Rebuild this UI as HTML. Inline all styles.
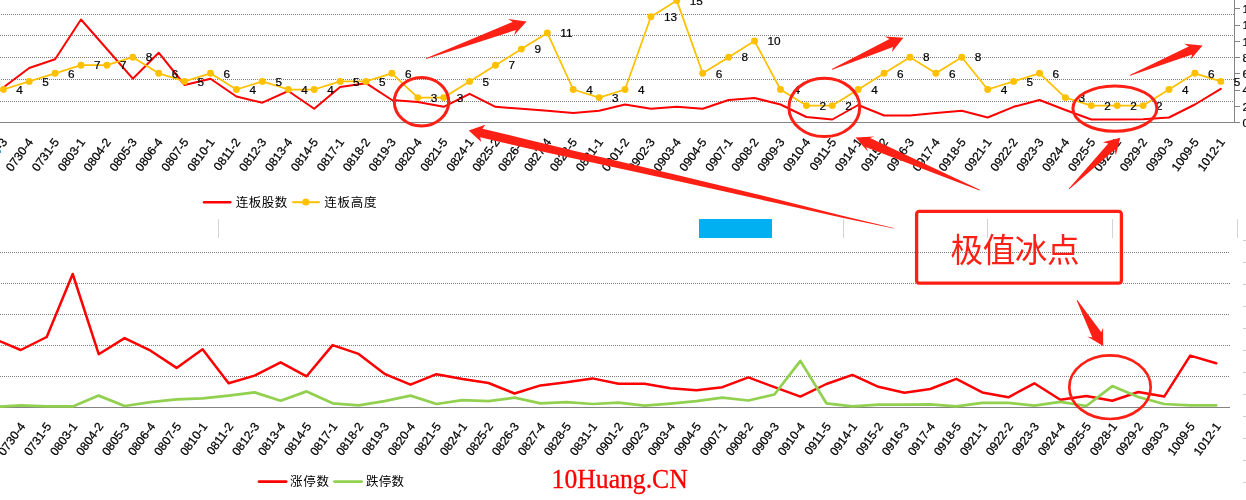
<!DOCTYPE html>
<html lang="zh-CN"><head><meta charset="utf-8"><title>极值冰点</title>
<style>
html,body{margin:0;padding:0;background:#fff;}
body{width:1246px;height:500px;overflow:hidden;}
svg{display:block;}
.ax{font-family:"Liberation Sans","Noto Sans CJK SC",sans-serif;font-size:12px;fill:#000000;stroke:#000;stroke-width:0.25px;}
.dl{font-family:"Liberation Sans","Noto Sans CJK SC",sans-serif;font-size:11.8px;fill:#000000;stroke:#000;stroke-width:0.2px;}
.lg{font-family:"Liberation Sans","Noto Sans CJK SC",sans-serif;font-size:12.5px;fill:#000000;}
.big{font-family:"Liberation Sans","Noto Sans CJK SC",sans-serif;font-size:32.6px;fill:#ff2015;}
.wm{font-family:"Liberation Serif","Noto Serif CJK SC",serif;font-size:27px;fill:#ff0000;stroke:#ff0000;stroke-width:0.3px;}
</style></head><body>
<svg width="1246" height="500" viewBox="0 0 1246 500">
<rect x="0" y="0" width="1246" height="500" fill="#ffffff"/>
<g stroke="#d4d4d4" stroke-width="1" shape-rendering="crispEdges">
<line x1="218.5" y1="219" x2="218.5" y2="237.5"/>
<line x1="843.5" y1="219" x2="843.5" y2="237.5"/>
<line x1="987.5" y1="219" x2="987.5" y2="237.5"/>
<line x1="1112.5" y1="219" x2="1112.5" y2="237.5"/>
<line x1="1237.5" y1="219" x2="1237.5" y2="237.5"/>
</g>
<g stroke="#cfcfcf" stroke-width="1" shape-rendering="crispEdges">
<line x1="1243" y1="240.5" x2="1246" y2="240.5"/>
<line x1="1243" y1="262.5" x2="1246" y2="262.5"/>
<line x1="1243" y1="284.5" x2="1246" y2="284.5"/>
<line x1="1243" y1="306.5" x2="1246" y2="306.5"/>
<line x1="1243" y1="328.5" x2="1246" y2="328.5"/>
<line x1="1243" y1="350.5" x2="1246" y2="350.5"/>
<line x1="1243" y1="372.5" x2="1246" y2="372.5"/>
<line x1="1243" y1="394.5" x2="1246" y2="394.5"/>
<line x1="1243" y1="416.5" x2="1246" y2="416.5"/>
<line x1="1243" y1="438.5" x2="1246" y2="438.5"/>
<line x1="1243" y1="460.5" x2="1246" y2="460.5"/>
<line x1="1243" y1="482.5" x2="1246" y2="482.5"/>
</g>
<rect x="0" y="150" width="1" height="3" fill="#5ccbf7"/>
<rect x="699" y="219" width="73" height="19" fill="#00b0f0"/>
<g stroke="#7d7d7d" stroke-width="1" stroke-dasharray="1 1" fill="none" shape-rendering="crispEdges">
<line x1="1" y1="14.5" x2="1234" y2="14.5"/>
<line x1="0" y1="35.5" x2="1234" y2="35.5"/>
<line x1="0" y1="57.5" x2="1234" y2="57.5"/>
<line x1="1" y1="79.5" x2="1234" y2="79.5"/>
<line x1="0" y1="101.5" x2="1234" y2="101.5"/>
</g>
<line x1="0" y1="122.5" x2="1240" y2="122.5" stroke="#838383" stroke-width="1" shape-rendering="crispEdges"/>
<g stroke="#838383" stroke-width="1" shape-rendering="crispEdges">
<line x1="1234.5" y1="0" x2="1234.5" y2="123"/>
<line x1="1235" y1="106.5" x2="1240" y2="106.5"/>
<line x1="1235" y1="90.5" x2="1240" y2="90.5"/>
<line x1="1235" y1="73.5" x2="1240" y2="73.5"/>
<line x1="1235" y1="57.5" x2="1240" y2="57.5"/>
<line x1="1235" y1="41.5" x2="1240" y2="41.5"/>
<line x1="1235" y1="25.5" x2="1240" y2="25.5"/>
<line x1="1235" y1="8.5" x2="1240" y2="8.5"/>
</g>
<g class="dl">
<text x="1242.5" y="126.8">0</text>
<text x="1242.5" y="110.5">2</text>
<text x="1242.5" y="94.3">4</text>
<text x="1242.5" y="78.0">6</text>
<text x="1242.5" y="61.8">8</text>
<text x="1242.5" y="45.5">10</text>
<text x="1242.5" y="29.3">12</text>
<text x="1242.5" y="13.1">14</text>
</g>
<g stroke="#7d7d7d" stroke-width="1" stroke-dasharray="1 1" fill="none" shape-rendering="crispEdges">
<line x1="0" y1="252.5" x2="1230" y2="252.5"/>
<line x1="1" y1="283.5" x2="1230" y2="283.5"/>
<line x1="0" y1="314.5" x2="1230" y2="314.5"/>
<line x1="1" y1="345.5" x2="1230" y2="345.5"/>
<line x1="0" y1="376.5" x2="1230" y2="376.5"/>
</g>
<line x1="0" y1="407.5" x2="1230" y2="407.5" stroke="#838383" stroke-width="1" shape-rendering="crispEdges"/>
<g class="ax" text-anchor="end">
<text transform="translate(7.9,142.0) rotate(-54)">0729-3</text>
<text transform="translate(33.8,142.0) rotate(-54)">0730-4</text>
<text transform="translate(59.7,142.0) rotate(-54)">0731-5</text>
<text transform="translate(85.6,142.0) rotate(-54)">0803-1</text>
<text transform="translate(111.5,142.0) rotate(-54)">0804-2</text>
<text transform="translate(137.4,142.0) rotate(-54)">0805-3</text>
<text transform="translate(163.3,142.0) rotate(-54)">0806-4</text>
<text transform="translate(189.2,142.0) rotate(-54)">0807-5</text>
<text transform="translate(215.1,142.0) rotate(-54)">0810-1</text>
<text transform="translate(241.0,142.0) rotate(-54)">0811-2</text>
<text transform="translate(267.0,142.0) rotate(-54)">0812-3</text>
<text transform="translate(292.9,142.0) rotate(-54)">0813-4</text>
<text transform="translate(318.8,142.0) rotate(-54)">0814-5</text>
<text transform="translate(344.7,142.0) rotate(-54)">0817-1</text>
<text transform="translate(370.6,142.0) rotate(-54)">0818-2</text>
<text transform="translate(396.5,142.0) rotate(-54)">0819-3</text>
<text transform="translate(422.4,142.0) rotate(-54)">0820-4</text>
<text transform="translate(448.3,142.0) rotate(-54)">0821-5</text>
<text transform="translate(474.2,142.0) rotate(-54)">0824-1</text>
<text transform="translate(500.1,142.0) rotate(-54)">0825-2</text>
<text transform="translate(526.0,142.0) rotate(-54)">0826-3</text>
<text transform="translate(551.9,142.0) rotate(-54)">0827-4</text>
<text transform="translate(577.8,142.0) rotate(-54)">0828-5</text>
<text transform="translate(603.7,142.0) rotate(-54)">0831-1</text>
<text transform="translate(629.6,142.0) rotate(-54)">0901-2</text>
<text transform="translate(655.5,142.0) rotate(-54)">0902-3</text>
<text transform="translate(681.4,142.0) rotate(-54)">0903-4</text>
<text transform="translate(707.3,142.0) rotate(-54)">0904-5</text>
<text transform="translate(733.2,142.0) rotate(-54)">0907-1</text>
<text transform="translate(759.1,142.0) rotate(-54)">0908-2</text>
<text transform="translate(785.1,142.0) rotate(-54)">0909-3</text>
<text transform="translate(811.0,142.0) rotate(-54)">0910-4</text>
<text transform="translate(836.9,142.0) rotate(-54)">0911-5</text>
<text transform="translate(862.8,142.0) rotate(-54)">0914-1</text>
<text transform="translate(888.7,142.0) rotate(-54)">0915-2</text>
<text transform="translate(914.6,142.0) rotate(-54)">0916-3</text>
<text transform="translate(940.5,142.0) rotate(-54)">0917-4</text>
<text transform="translate(966.4,142.0) rotate(-54)">0918-5</text>
<text transform="translate(992.3,142.0) rotate(-54)">0921-1</text>
<text transform="translate(1018.2,142.0) rotate(-54)">0922-2</text>
<text transform="translate(1044.1,142.0) rotate(-54)">0923-3</text>
<text transform="translate(1070.0,142.0) rotate(-54)">0924-4</text>
<text transform="translate(1095.9,142.0) rotate(-54)">0925-5</text>
<text transform="translate(1121.8,142.0) rotate(-54)">0928-1</text>
<text transform="translate(1147.7,142.0) rotate(-54)">0929-2</text>
<text transform="translate(1173.6,142.0) rotate(-54)">0930-3</text>
<text transform="translate(1199.5,142.0) rotate(-54)">1009-5</text>
<text transform="translate(1225.4,142.0) rotate(-54)">1012-1</text>
</g>
<g class="ax" text-anchor="end">
<text transform="translate(0.0,426.3) rotate(-54)">0729-3</text>
<text transform="translate(26.0,426.3) rotate(-54)">0730-4</text>
<text transform="translate(52.0,426.3) rotate(-54)">0731-5</text>
<text transform="translate(78.0,426.3) rotate(-54)">0803-1</text>
<text transform="translate(104.0,426.3) rotate(-54)">0804-2</text>
<text transform="translate(129.9,426.3) rotate(-54)">0805-3</text>
<text transform="translate(155.9,426.3) rotate(-54)">0806-4</text>
<text transform="translate(181.9,426.3) rotate(-54)">0807-5</text>
<text transform="translate(207.9,426.3) rotate(-54)">0810-1</text>
<text transform="translate(233.9,426.3) rotate(-54)">0811-2</text>
<text transform="translate(259.9,426.3) rotate(-54)">0812-3</text>
<text transform="translate(285.9,426.3) rotate(-54)">0813-4</text>
<text transform="translate(311.9,426.3) rotate(-54)">0814-5</text>
<text transform="translate(337.9,426.3) rotate(-54)">0817-1</text>
<text transform="translate(363.9,426.3) rotate(-54)">0818-2</text>
<text transform="translate(389.8,426.3) rotate(-54)">0819-3</text>
<text transform="translate(415.8,426.3) rotate(-54)">0820-4</text>
<text transform="translate(441.8,426.3) rotate(-54)">0821-5</text>
<text transform="translate(467.8,426.3) rotate(-54)">0824-1</text>
<text transform="translate(493.8,426.3) rotate(-54)">0825-2</text>
<text transform="translate(519.8,426.3) rotate(-54)">0826-3</text>
<text transform="translate(545.8,426.3) rotate(-54)">0827-4</text>
<text transform="translate(571.8,426.3) rotate(-54)">0828-5</text>
<text transform="translate(597.8,426.3) rotate(-54)">0831-1</text>
<text transform="translate(623.8,426.3) rotate(-54)">0901-2</text>
<text transform="translate(649.8,426.3) rotate(-54)">0902-3</text>
<text transform="translate(675.7,426.3) rotate(-54)">0903-4</text>
<text transform="translate(701.7,426.3) rotate(-54)">0904-5</text>
<text transform="translate(727.7,426.3) rotate(-54)">0907-1</text>
<text transform="translate(753.7,426.3) rotate(-54)">0908-2</text>
<text transform="translate(779.7,426.3) rotate(-54)">0909-3</text>
<text transform="translate(805.7,426.3) rotate(-54)">0910-4</text>
<text transform="translate(831.7,426.3) rotate(-54)">0911-5</text>
<text transform="translate(857.7,426.3) rotate(-54)">0914-1</text>
<text transform="translate(883.7,426.3) rotate(-54)">0915-2</text>
<text transform="translate(909.6,426.3) rotate(-54)">0916-3</text>
<text transform="translate(935.6,426.3) rotate(-54)">0917-4</text>
<text transform="translate(961.6,426.3) rotate(-54)">0918-5</text>
<text transform="translate(987.6,426.3) rotate(-54)">0921-1</text>
<text transform="translate(1013.6,426.3) rotate(-54)">0922-2</text>
<text transform="translate(1039.6,426.3) rotate(-54)">0923-3</text>
<text transform="translate(1065.6,426.3) rotate(-54)">0924-4</text>
<text transform="translate(1091.6,426.3) rotate(-54)">0925-5</text>
<text transform="translate(1117.6,426.3) rotate(-54)">0928-1</text>
<text transform="translate(1143.6,426.3) rotate(-54)">0929-2</text>
<text transform="translate(1169.5,426.3) rotate(-54)">0930-3</text>
<text transform="translate(1195.5,426.3) rotate(-54)">1009-5</text>
<text transform="translate(1221.5,426.3) rotate(-54)">1012-1</text>
</g>
<polyline points="3.3,87.5 29.2,68.0 55.1,59.3 81.0,19.5 106.9,49.0 132.8,78.7 158.7,52.7 184.6,85.0 210.5,78.7 236.4,96.5 262.4,102.7 288.3,91.0 314.2,108.8 340.1,87.0 366.0,83.2 391.9,100.0 417.8,102.0 443.7,106.8 469.6,93.8 495.5,106.8 521.4,108.8 547.3,110.8 573.2,113.0 599.1,110.8 625.0,104.5 650.9,108.8 676.8,106.8 702.7,108.8 728.6,100.0 754.5,98.0 780.5,104.5 806.4,117.0 832.3,119.5 858.2,105.0 884.1,115.5 910.0,115.5 935.9,113.0 961.8,110.8 987.7,117.5 1013.6,106.8 1039.5,100.0 1065.4,110.0 1091.3,119.5 1117.2,119.5 1143.1,119.2 1169.0,117.5 1194.9,104.5 1220.8,88.8" fill="none" stroke="#ff0000" stroke-width="2.0" stroke-linejoin="round" stroke-linecap="round"/>
<polyline points="3.3,89.5 29.2,81.4 55.1,73.3 81.0,65.2 106.9,65.2 132.8,57.2 158.7,73.3 184.6,81.4 210.5,73.3 236.4,89.5 262.4,81.4 288.3,89.5 314.2,89.5 340.1,81.4 366.0,81.4 391.9,73.3 417.8,97.6 443.7,97.6 469.6,81.4 495.5,65.2 521.4,49.1 547.3,32.9 573.2,89.5 599.1,97.6 625.0,89.5 650.9,16.8 676.8,0.6 702.7,73.3 728.6,57.2 754.5,41.0 780.5,89.5 806.4,105.6 832.3,105.6 858.2,89.5 884.1,73.3 910.0,57.2 935.9,73.3 961.8,57.2 987.7,89.5 1013.6,81.4 1039.5,73.3 1065.4,97.6 1091.3,105.6 1117.2,105.6 1143.1,105.6 1169.0,89.5 1194.9,73.3 1220.8,81.4" fill="none" stroke="#ffc000" stroke-width="1.75" stroke-linejoin="round"/>
<g fill="#ffc000">
<circle cx="3.3" cy="89.5" r="3.45"/>
<circle cx="29.2" cy="81.4" r="3.45"/>
<circle cx="55.1" cy="73.3" r="3.45"/>
<circle cx="81.0" cy="65.2" r="3.45"/>
<circle cx="106.9" cy="65.2" r="3.45"/>
<circle cx="132.8" cy="57.2" r="3.45"/>
<circle cx="158.7" cy="73.3" r="3.45"/>
<circle cx="184.6" cy="81.4" r="3.45"/>
<circle cx="210.5" cy="73.3" r="3.45"/>
<circle cx="236.4" cy="89.5" r="3.45"/>
<circle cx="262.4" cy="81.4" r="3.45"/>
<circle cx="288.3" cy="89.5" r="3.45"/>
<circle cx="314.2" cy="89.5" r="3.45"/>
<circle cx="340.1" cy="81.4" r="3.45"/>
<circle cx="366.0" cy="81.4" r="3.45"/>
<circle cx="391.9" cy="73.3" r="3.45"/>
<circle cx="417.8" cy="97.6" r="3.45"/>
<circle cx="443.7" cy="97.6" r="3.45"/>
<circle cx="469.6" cy="81.4" r="3.45"/>
<circle cx="495.5" cy="65.2" r="3.45"/>
<circle cx="521.4" cy="49.1" r="3.45"/>
<circle cx="547.3" cy="32.9" r="3.45"/>
<circle cx="573.2" cy="89.5" r="3.45"/>
<circle cx="599.1" cy="97.6" r="3.45"/>
<circle cx="625.0" cy="89.5" r="3.45"/>
<circle cx="650.9" cy="16.8" r="3.45"/>
<circle cx="676.8" cy="0.6" r="3.45"/>
<circle cx="702.7" cy="73.3" r="3.45"/>
<circle cx="728.6" cy="57.2" r="3.45"/>
<circle cx="754.5" cy="41.0" r="3.45"/>
<circle cx="780.5" cy="89.5" r="3.45"/>
<circle cx="806.4" cy="105.6" r="3.45"/>
<circle cx="832.3" cy="105.6" r="3.45"/>
<circle cx="858.2" cy="89.5" r="3.45"/>
<circle cx="884.1" cy="73.3" r="3.45"/>
<circle cx="910.0" cy="57.2" r="3.45"/>
<circle cx="935.9" cy="73.3" r="3.45"/>
<circle cx="961.8" cy="57.2" r="3.45"/>
<circle cx="987.7" cy="89.5" r="3.45"/>
<circle cx="1013.6" cy="81.4" r="3.45"/>
<circle cx="1039.5" cy="73.3" r="3.45"/>
<circle cx="1065.4" cy="97.6" r="3.45"/>
<circle cx="1091.3" cy="105.6" r="3.45"/>
<circle cx="1117.2" cy="105.6" r="3.45"/>
<circle cx="1143.1" cy="105.6" r="3.45"/>
<circle cx="1169.0" cy="89.5" r="3.45"/>
<circle cx="1194.9" cy="73.3" r="3.45"/>
<circle cx="1220.8" cy="81.4" r="3.45"/>
</g>
<g class="dl">
<text x="16.3" y="93.7">4</text>
<text x="42.2" y="85.6">5</text>
<text x="68.1" y="77.5">6</text>
<text x="94.0" y="69.4">7</text>
<text x="119.9" y="69.4">7</text>
<text x="145.8" y="61.4">8</text>
<text x="171.7" y="77.5">6</text>
<text x="197.6" y="85.6">5</text>
<text x="223.5" y="77.5">6</text>
<text x="249.4" y="93.7">4</text>
<text x="275.4" y="85.6">5</text>
<text x="301.3" y="93.7">4</text>
<text x="327.2" y="93.7">4</text>
<text x="353.1" y="85.6">5</text>
<text x="379.0" y="85.6">5</text>
<text x="404.9" y="77.5">6</text>
<text x="430.8" y="101.8">3</text>
<text x="456.7" y="101.8">3</text>
<text x="482.6" y="85.6">5</text>
<text x="508.5" y="69.4">7</text>
<text x="534.4" y="53.3">9</text>
<text x="560.3" y="37.1">11</text>
<text x="586.2" y="93.7">4</text>
<text x="612.1" y="101.8">3</text>
<text x="638.0" y="93.7">4</text>
<text x="663.9" y="21.0">13</text>
<text x="689.8" y="4.8">15</text>
<text x="715.7" y="77.5">6</text>
<text x="741.6" y="61.4">8</text>
<text x="767.5" y="45.2">10</text>
<text x="793.5" y="93.7">4</text>
<text x="819.4" y="109.8">2</text>
<text x="845.3" y="109.8">2</text>
<text x="871.2" y="93.7">4</text>
<text x="897.1" y="77.5">6</text>
<text x="923.0" y="61.4">8</text>
<text x="948.9" y="77.5">6</text>
<text x="974.8" y="61.4">8</text>
<text x="1000.7" y="93.7">4</text>
<text x="1026.6" y="85.6">5</text>
<text x="1052.5" y="77.5">6</text>
<text x="1078.4" y="101.8">3</text>
<text x="1104.3" y="109.8">2</text>
<text x="1130.2" y="109.8">2</text>
<text x="1156.1" y="109.8">2</text>
<text x="1182.0" y="93.7">4</text>
<text x="1207.9" y="77.5">6</text>
<text x="1233.8" y="85.6">5</text>
</g>
<polyline points="-5.3,339.0 20.7,350.0 46.7,337.0 72.7,274.0 98.7,354.2 124.6,338.1 150.6,350.7 176.6,367.9 202.6,349.3 228.6,383.3 254.6,375.6 280.6,362.3 306.6,376.3 332.6,345.1 358.6,353.9 384.5,373.8 410.5,384.7 436.5,374.2 462.5,379.1 488.5,383.0 514.5,393.5 540.5,385.4 566.5,382.3 592.5,378.4 618.5,383.7 644.5,383.7 670.4,388.2 696.4,390.3 722.4,387.2 748.4,377.4 774.4,387.2 800.4,396.6 826.4,384.0 852.4,374.9 878.4,386.8 904.4,392.8 930.3,389.0 956.3,378.8 982.3,392.4 1008.3,397.3 1034.3,383.3 1060.3,399.8 1086.3,395.9 1112.3,400.8 1138.3,392.0 1164.2,396.6 1190.2,355.6 1216.2,363.3" fill="none" stroke="#ff0000" stroke-width="2.5" stroke-linejoin="round" stroke-linecap="round"/>
<polyline points="-5.3,406.8 20.7,405.4 46.7,406.4 72.7,406.4 98.7,395.6 124.6,406.0 150.6,402.2 176.6,399.4 202.6,398.4 228.6,395.6 254.6,392.4 280.6,400.8 306.6,391.4 332.6,403.3 358.6,405.4 384.5,401.2 410.5,395.6 436.5,404.0 462.5,400.1 488.5,401.2 514.5,397.7 540.5,403.3 566.5,402.2 592.5,404.0 618.5,402.6 644.5,405.7 670.4,403.6 696.4,401.2 722.4,397.7 748.4,400.5 774.4,394.5 800.4,360.9 826.4,403.3 852.4,406.4 878.4,404.7 904.4,404.7 930.3,404.3 956.3,406.4 982.3,402.9 1008.3,402.9 1034.3,405.7 1060.3,401.9 1086.3,406.0 1112.3,386.1 1138.3,397.0 1164.2,404.0 1190.2,405.4 1216.2,405.4" fill="none" stroke="#92d050" stroke-width="2.75" stroke-linejoin="round" stroke-linecap="round"/>
<line x1="204" y1="202.2" x2="230.3" y2="202.2" stroke="#ff0000" stroke-width="2.4" stroke-linecap="round"/>
<text class="lg" x="235.8" y="206.6" textLength="51.5" lengthAdjust="spacing">连板股数</text>
<line x1="292.2" y1="202.2" x2="319.8" y2="202.2" stroke="#ffc000" stroke-width="2"/>
<circle cx="305.8" cy="202" r="3.6" fill="#ffc000"/>
<text class="lg" x="324.2" y="206.6" textLength="52.3" lengthAdjust="spacing">连板高度</text>
<line x1="259" y1="481.6" x2="286.2" y2="481.6" stroke="#ff0000" stroke-width="2.7" stroke-linecap="round"/>
<text class="lg" x="290" y="486" textLength="39" lengthAdjust="spacing">涨停数</text>
<line x1="334.5" y1="481.6" x2="361.5" y2="481.6" stroke="#92d050" stroke-width="2.8" stroke-linecap="round"/>
<text class="lg" x="366" y="486" textLength="38" lengthAdjust="spacing">跌停数</text>
<text class="wm" x="551.6" y="488" textLength="136.2" lengthAdjust="spacingAndGlyphs">10Huang.CN</text>
<g fill="none" stroke="#ff2015">
<ellipse cx="421.5" cy="101.7" rx="27.2" ry="24.3" stroke-width="3"/>
<ellipse cx="824.3" cy="107.4" rx="35.4" ry="29.2" stroke-width="3"/>
<ellipse cx="1114.9" cy="108.6" rx="42" ry="22.7" stroke-width="3"/>
<ellipse cx="1110" cy="387.2" rx="40.7" ry="31.8" stroke-width="2.7"/>
<rect x="916.6" y="211.4" width="204.8" height="71.8" rx="2.6" ry="2.6" stroke-width="3.3"/>
</g>
<text class="big" x="950.6" y="261.8" textLength="129" lengthAdjust="spacing">极值冰点</text>
<g fill="#ff2015">
<polygon points="426.1,58.2 512.7,21.9 508.1,19.1 526.6,21.4 514.1,35.2 515.8,30.1 426.3,59.0"/>
<polygon points="831.8,68.9 889.5,39.0 884.8,36.5 903.4,37.7 891.8,52.2 893.1,47.1 832.2,69.7"/>
<polygon points="1129.8,74.9 1188.7,46.4 1184.1,43.7 1202.6,45.4 1190.6,59.6 1192.1,54.5 1130.2,75.7"/>
<polygon points="979.5,190.6 866.2,147.3 868.0,151.7 855.6,137.4 874.5,136.4 870.1,138.1 979.9,189.8"/>
<polygon points="1068.7,188.7 1108.3,143.4 1102.8,142.2 1120.3,137.8 1115.8,155.3 1114.7,149.7 1069.3,189.3"/>
<polygon points="1077.3,300.0 1101.3,332.2 1103.1,327.5 1103.2,345.9 1087.3,336.5 1092.3,337.4 1076.7,300.4"/>
<polygon points="468.7,130.4 485.3,124.8 482.5,128.8 525,138.9 575,151.0 675,174.5 775,198.7 843.4,216.0 893.8,228.0 893.8,228.5 843.4,218.0 775,202.8 675,180.4 575,158.7 525,147.7 480.1,137.3 481.3,142.1"/>
</g>
</svg>
</body></html>
